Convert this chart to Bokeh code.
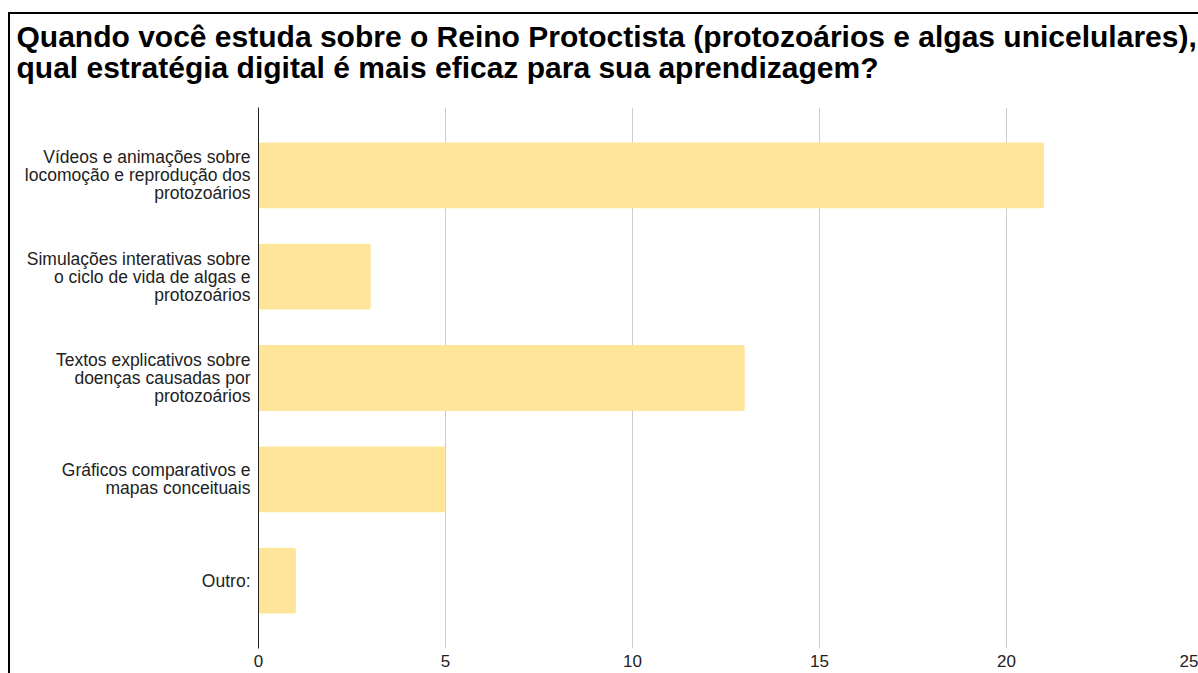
from bokeh.plotting import figure
from bokeh.layouts import column
from bokeh.models import Title, FixedTicker
from bokeh.embed import file_html
from bokeh.resources import INLINE

categories = [
    "Vídeos e animações sobre\nlocomoção e reprodução dos\nprotozoários",
    "Simulações interativas sobre\no ciclo de vida de algas e\nprotozoários",
    "Textos explicativos sobre\ndoenças causadas por\nprotozoários",
    "Gráficos comparativos e\nmapas conceituais",
    "Outro:",
]
values = [21, 3, 13, 5, 1]
x_ticks = [0, 5, 10, 15, 20, 25]
title_lines = [
    "Quando você estuda sobre o Reino Protoctista (protozoários e algas unicelulares),",
    "qual estratégia digital é mais eficaz para sua aprendizagem?",
]

ypos = list(range(len(categories)))

p = figure(width=1188, height=676, output_backend="svg", toolbar_location=None,
           x_range=(0, 25), y_range=(4.67, -0.67), title=None,
           min_border_left=248, min_border_right=5, min_border_bottom=25, min_border_top=0,
           border_fill_color=None, background_fill_color=None,
           margin=(-17, 0, 0, 0))

ttl = Title(text="\n".join(title_lines), text_font="Liberation Sans", text_font_size="30px",
            text_font_style="bold", text_color="#000000", align="left",
            offset=-242, standoff=44, text_line_height=0.95, vertical_align="top")
p.add_layout(ttl, "above")

p.hbar(y=ypos, right=values, left=0, height=0.65, fill_color="#FFE599",
       line_color=None, border_radius=2)

p.xaxis.ticker = FixedTicker(ticks=x_ticks)
p.xaxis.axis_line_color = None
p.xaxis.major_tick_line_color = None
p.xaxis.minor_tick_line_color = None
p.xaxis.major_tick_out = 0
p.xaxis.major_label_text_font = "Liberation Sans"
p.xaxis.major_label_text_font_size = "17px"
p.xaxis.major_label_text_color = "#222222"
p.xaxis.major_label_standoff = 6

p.yaxis.ticker = FixedTicker(ticks=ypos)
p.yaxis.major_label_overrides = {i: c for i, c in zip(ypos, categories)}
p.yaxis.axis_line_color = "#222222"
p.yaxis.axis_line_width = 1
p.yaxis.major_tick_line_color = None
p.yaxis.minor_tick_line_color = None
p.yaxis.major_tick_out = 0
p.yaxis.major_label_text_font = "Liberation Sans"
p.yaxis.major_label_text_font_size = "17.5px"
p.yaxis.major_label_text_color = "#222222"
p.yaxis.major_label_text_line_height = 0.9
p.yaxis.major_label_standoff = 8

p.xgrid.grid_line_color = "#cccccc"
p.xgrid.grid_line_width = 1
p.ygrid.grid_line_color = None
p.outline_line_color = None

layout = column(p, margin=(12, 0, 0, 8),
                styles={"border-top": "2px solid black", "border-left": "2px solid black"})

open("out.html", "w").write(file_html(layout, INLINE))
